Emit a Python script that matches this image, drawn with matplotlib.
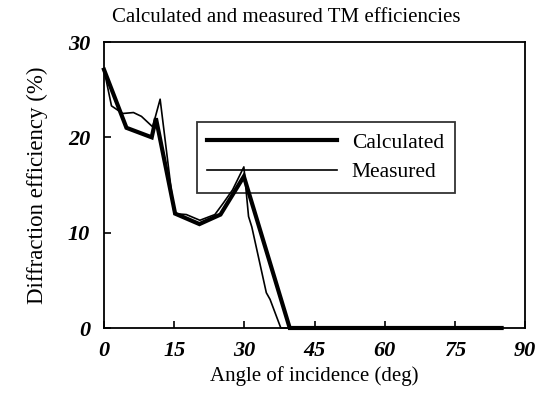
import matplotlib
matplotlib.use("Agg")
import matplotlib.pyplot as plt

calc_x = [0, 4.8, 10.2, 11.1, 15.2, 20.4, 24.9, 29.9, 39.7, 85]
calc_y = [27.1, 21.0, 20.0, 22.0, 12.0, 10.9, 11.9, 15.9, 0, 0]

meas_x = [0, 1.6, 4.0, 6.3, 8.0, 10.4, 12.0, 15.0, 17.6, 20.5, 23.7, 25.5, 27.5, 29.9,
          30.9, 31.6, 34.7, 35.5, 37.8, 85]
meas_y = [27.1, 23.3, 22.5, 22.6, 22.2, 21.1, 24.0, 12.0, 11.9, 11.3, 11.9, 13.1, 14.5, 16.9,
          11.7, 10.6, 3.7, 3.0, 0, 0]

x_ticks = [0, 15, 30, 45, 60, 75, 90]
y_ticks = [0, 10, 20, 30]

W, H = 543, 396
fig = plt.figure(figsize=(W / 100, H / 100), dpi=100)
ax = fig.add_axes([104 / W, 1 - 328 / H, (525 - 104) / W, (328 - 42) / H])

serif = ["Liberation Serif", "DejaVu Serif"]

ax.plot(calc_x, calc_y, color="black", lw=3.0, label="Calculated", clip_on=False,
        solid_joinstyle="miter", zorder=3)
ax.plot(meas_x, meas_y, color="black", lw=1.2, label="Measured", clip_on=False, zorder=3)

ax.set_xlim(0, 90)
ax.set_ylim(0, 30)
ax.set_xticks(x_ticks)
ax.set_yticks(y_ticks)
ax.tick_params(direction="in", length=5, width=1.2)
ax.tick_params(axis="x", pad=9)
ax.tick_params(axis="y", pad=10)
for lab in ax.get_xticklabels() + ax.get_yticklabels():
    lab.set_fontfamily(serif)
    lab.set_fontstyle("italic")
    lab.set_fontweight("bold")
    lab.set_fontsize(16)
for s in ax.spines.values():
    s.set_linewidth(1.3)

ax.set_xlabel("Angle of incidence (deg)", family=serif, fontsize=15, labelpad=4)
ax.set_ylabel("Diffraction efficiency (%)", family=serif, fontsize=16.5, labelpad=14)
fig.text(286 / W, 1 - 18 / H, "Calculated and measured TM efficiencies", family=serif,
         fontsize=15, ha="center", va="center")

leg = ax.legend(loc="upper left", bbox_to_anchor=(196.7 / W, 1 - 121.7 / H),
                bbox_transform=fig.transFigure, borderaxespad=0, fancybox=False,
                prop={"family": serif, "size": 15.5}, handlelength=6.0, borderpad=0.5,
                labelspacing=0.45, handletextpad=0.7)
fr = leg.get_frame()
fr.set_facecolor("none")
fr.set_edgecolor("black")
fr.set_linewidth(1.3)

fig.savefig("out.png", dpi=100)
